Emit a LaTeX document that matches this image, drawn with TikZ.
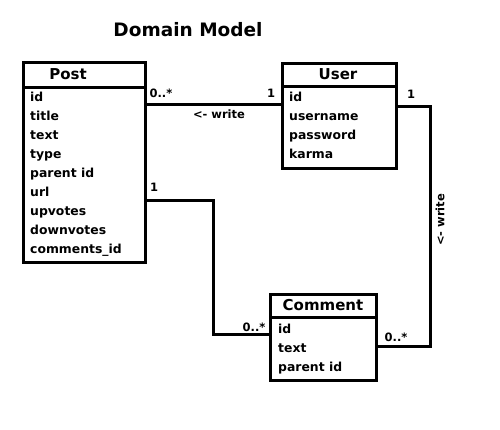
\documentclass[tikz,border=0pt]{standalone}
\usepackage{fontspec}
\setmainfont{DejaVu Sans}
\begin{document}
\begin{tikzpicture}[x=1pt,y=-1pt,
  box/.style={draw,line width=3pt,inner sep=0pt,outer sep=0pt},
  conn/.style={line width=3pt},
  attr/.style={anchor=west,inner sep=0pt,text height=9pt,text depth=3pt,font=\bfseries\fontsize{12.4}{14}\selectfont},
  head/.style={inner sep=0pt,font=\bfseries\fontsize{15}{18}\selectfont},
  lbl/.style={inner sep=0pt,font=\bfseries\fontsize{11.5}{13}\selectfont}]
\useasboundingbox (0,0) rectangle (500,429);
\node[inner sep=0pt,font=\bfseries\fontsize{18.5}{22}\selectfont] (title) at (188,30) {Domain Model};
% Post
\node[box,minimum width=122pt,minimum height=200pt] (post) at (84,162) {};
\draw[conn] (post.west |- 0,87) -- (post.east |- 0,87);
\node[head] (posth) at (68,74) {Post};
\foreach \t [count=\i from 0] in {id,title,text,type,parent id,url,upvotes,downvotes,comments\_id}
  \node[attr] (pa\i) at (30,98+19*\i) {\t};
% User
\node[box,minimum width=114pt,minimum height=105pt] (user) at (339,115.5) {};
\draw[conn] (user.west |- 0,86) -- (user.east |- 0,86);
\node[head] (userh) at (338,74) {User};
\foreach \t [count=\i from 0] in {id,username,password,karma}
  \node[attr] (ua\i) at (289,98+19.3*\i) {\t};
% Comment
\node[box,minimum width=106pt,minimum height=86pt] (comment) at (323,337) {};
\draw[conn] (comment.west |- 0,317) -- (comment.east |- 0,317);
\node[head] (commenth) at (323,305) {Comment};
\foreach \t [count=\i from 0] in {id,text,parent id}
  \node[attr] (ca\i) at (278,330+19*\i) {\t};
% connectors
\draw[conn] (post.east |- 0,104) -- (user.west |- 0,104);
\draw[conn] (post.east |- 0,200) -- (213,200) -- (213,334) -- (comment.west |- 0,334);
\draw[conn] (user.east |- 0,106) -- (430,106) -- (430,346) -- (comment.east |- 0,346);
% labels
\node[lbl] (l1) at (161,93) {0..*};
\node[lbl] (l2) at (271,93) {1};
\node[lbl] (l3) at (219,114) {<- write};
\node[lbl] (l4) at (154,187) {1};
\node[lbl] (l5) at (254,327) {0..*};
\node[lbl] (l6) at (411,94) {1};
\node[lbl] (l7) at (396,337) {0..*};
\node[lbl,rotate=90] (l8) at (440,220) {<- write};
\end{tikzpicture}
\end{document}
